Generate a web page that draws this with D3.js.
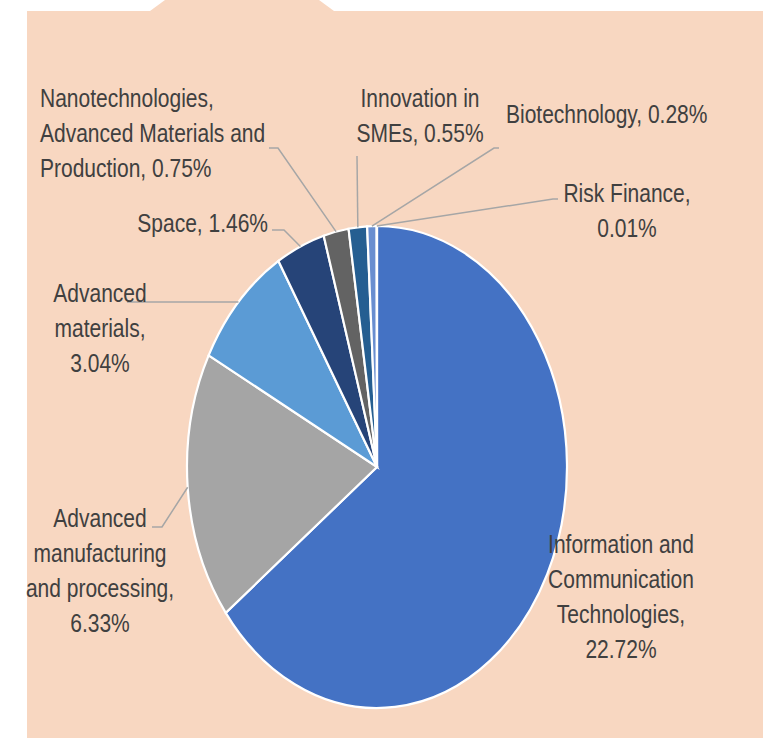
<!DOCTYPE html>
<html>
<head>
<meta charset="utf-8">
<script src="https://cdn.jsdelivr.net/npm/d3@7"></script>
<style>
  html, body { margin: 0; padding: 0; background: #fff; }
  svg { display: block; }
  text { font-family: "Liberation Sans", Arial, sans-serif; fill: #404040; }
</style>
</head>
<body>
<svg width="769" height="742"></svg>
<script>
// chart data
const categories = [
  "Information and Communication Technologies",
  "Advanced manufacturing and processing",
  "Advanced materials",
  "Space",
  "Nanotechnologies, Advanced Materials and Production",
  "Innovation in SMEs",
  "Biotechnology",
  "Risk Finance"
];
const shares = [22.72, 6.33, 3.04, 1.46, 0.75, 0.55, 0.28, 0.01];
const colors = ["#4472C4", "#A5A5A5", "#5B9BD5", "#264478", "#636363", "#255E91", "#698ED0", "#9E9E9E"];

// label layout: text lines, anchor, position and elbow of the leader line
const labelLines = [
  ["Information and", "Communication", "Technologies,", "22.72%"],
  ["Advanced", "manufacturing", "and processing,", "6.33%"],
  ["Advanced", "materials,", "3.04%"],
  ["Space, 1.46%"],
  ["Nanotechnologies,", "Advanced Materials and", "Production, 0.75%"],
  ["Innovation in", "SMEs, 0.55%"],
  ["Biotechnology, 0.28%"],
  ["Risk Finance,", "0.01%"]
];
const labelPos = [
  {x: 621, y: 553, anchor: "middle", leader: null},
  {x: 100, y: 527, anchor: "middle", leader: [[152, 527], [162, 527]]},
  {x: 100, y: 302, anchor: "middle", leader: [[127, 302]]},
  {x: 268, y: 232, anchor: "end", leader: [[272, 230], [284, 230]]},
  {x: 40, y: 107, anchor: "start", leader: [[269, 148], [278, 148]]},
  {x: 420, y: 107, anchor: "middle", leader: [[357, 156]]},
  {x: 506, y: 123, anchor: "start", leader: [[499, 148], [494, 148]]},
  {x: 627, y: 202, anchor: "middle", leader: [[558, 199], [553, 199]]}
];

const svg = d3.select("svg");
const bg = "#F8D7C1";

// background panel with tab
svg.append("rect")
  .attr("x", 27).attr("y", 11)
  .attr("width", 736).attr("height", 727)
  .attr("fill", bg);
svg.append("path")
  .attr("d", "M150,11 L165,0 L319,0 L334,11 Z")
  .attr("fill", bg);

const cx = 377, cy = 467, rx = 190, ry = 241;
const k = ry / rx;

const pie = d3.pie().sort(null).value(d => d)(shares);
const arc = d3.arc().innerRadius(0).outerRadius(rx);

svg.append("g")
  .attr("transform", `translate(${cx},${cy}) scale(1,${k})`)
  .selectAll("path")
  .data(pie)
  .enter()
  .append("path")
  .attr("d", arc)
  .attr("fill", (d, i) => colors[i])
  .attr("stroke", "#fff")
  .attr("stroke-width", 2.2)
  .attr("vector-effect", "non-scaling-stroke");

// leader lines, from slice mid-angle on the rim to the label
function rimPoint(d) {
  const a = (d.startAngle + d.endAngle) / 2;
  return [cx + Math.sin(a) * rx, cy - Math.cos(a) * ry];
}

const line = d3.line();
svg.append("g")
  .selectAll("path")
  .data(pie.filter((d, i) => labelPos[i].leader))
  .enter()
  .append("path")
  .attr("d", d => {
    const lp = labelPos[d.index].leader;
    return line([...lp, rimPoint(d)]);
  })
  .attr("fill", "none")
  .attr("stroke", "#A6A6A6")
  .attr("stroke-width", 1.5);

// labels, stretched vertically like the pie
const lineGap = 35;
const labels = svg.append("g")
  .selectAll("text")
  .data(categories)
  .enter()
  .append("text")
  .attr("text-anchor", (d, i) => labelPos[i].anchor)
  .attr("font-size", 21)
  .attr("transform", (d, i) => `translate(${labelPos[i].x},${labelPos[i].y}) scale(1,${k})`);

labels.selectAll("tspan")
  .data((d, i) => labelLines[i])
  .enter()
  .append("tspan")
  .attr("x", 0)
  .attr("y", (d, j) => j * lineGap / k)
  .text(d => d);
</script>
</body>
</html>
